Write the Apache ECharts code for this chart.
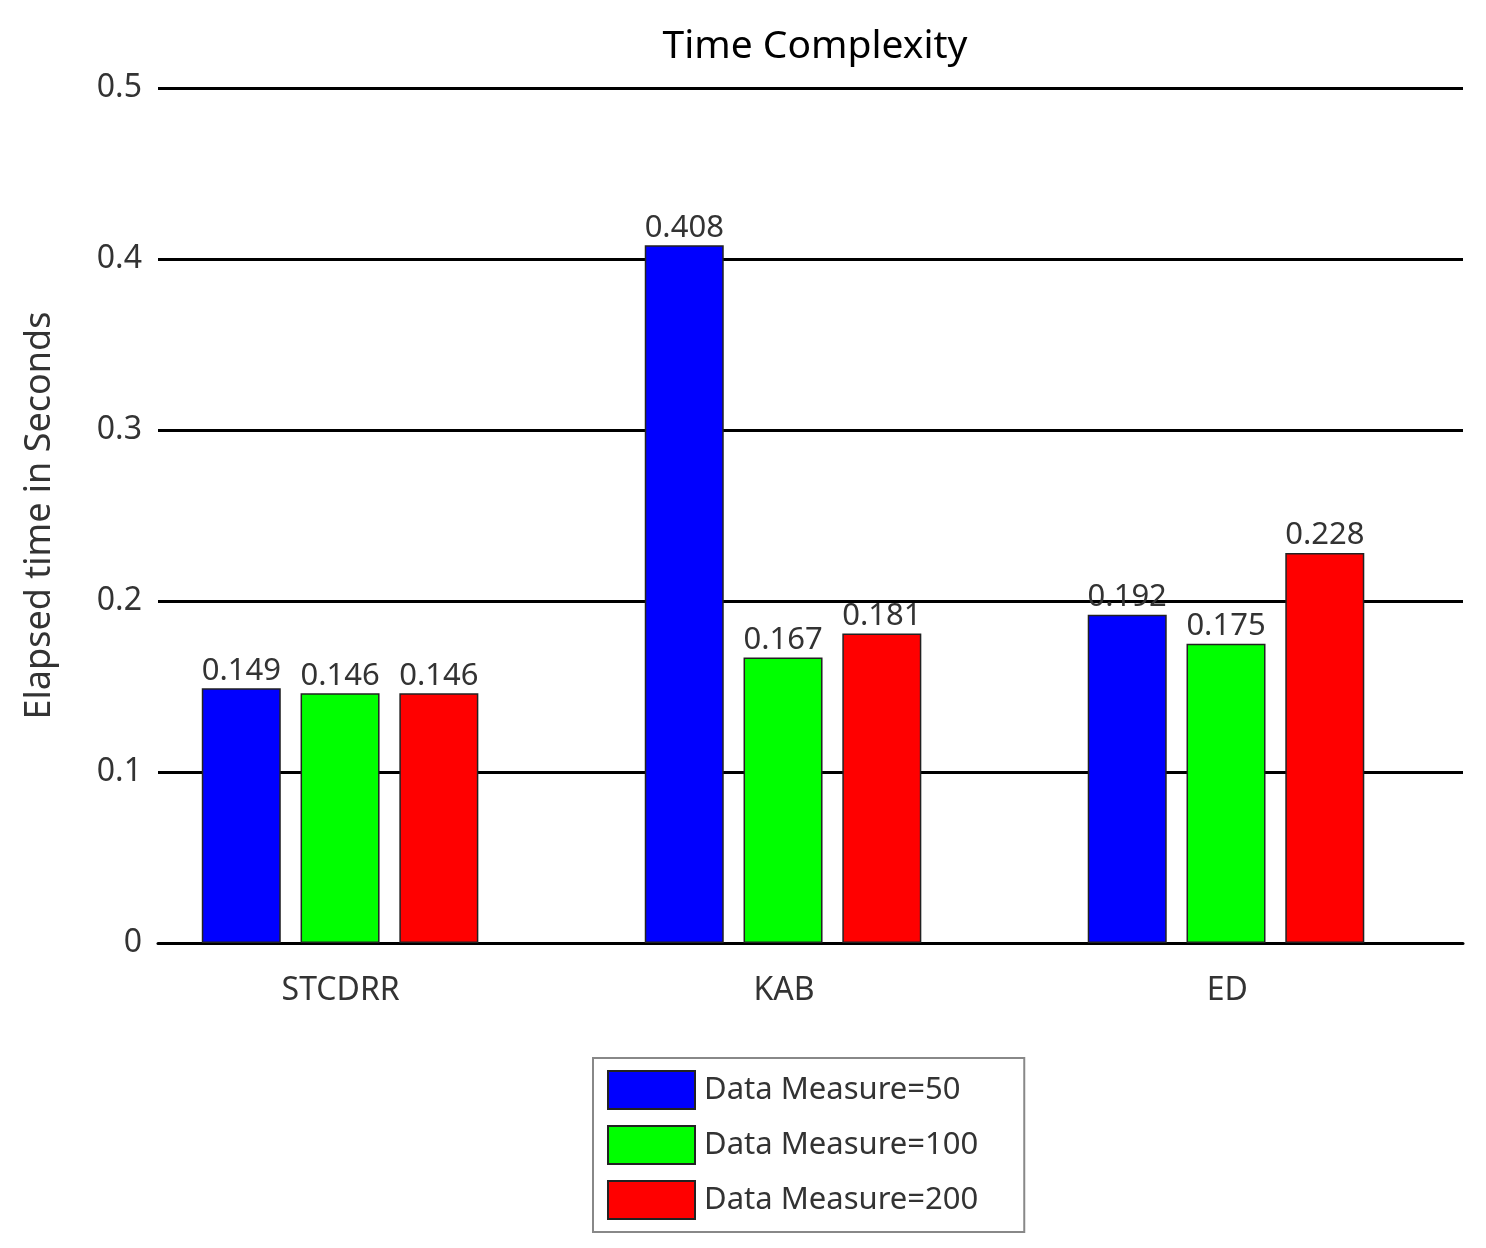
<!DOCTYPE html>
<html><head><meta charset="utf-8">
<script src="https://cdn.jsdelivr.net/npm/echarts@6/dist/echarts.min.js"></script>
<style>html,body{margin:0;background:#fff}#c{width:1486px;height:1248px}</style>
</head><body><div id="c"></div>
<script>
const categories = ['STCDRR', 'KAB', 'ED'];
const seriesNames = ['Data Measure=50', 'Data Measure=100', 'Data Measure=200'];
const m50 = [0.149, 0.408, 0.192];
const m100 = [0.146, 0.167, 0.175];
const m200 = [0.146, 0.181, 0.228];
const colors = ['#0000ff', '#00ff00', '#ff0000'];

const chart = echarts.init(document.getElementById('c'));
const offsets = [-0.223, 0, 0.223];
const font = 'Noto Sans';
const series = [m50, m100, m200].map((vals, k) => ({
    name: seriesNames[k],
    type: 'bar',
    barWidth: 79,
    barGap: '-100%',
    itemStyle: { color: colors[k], borderColor: '#222', borderWidth: 1.5 },
    label: { show: true, position: 'top', distance: 2, color: '#333', fontSize: 31, fontFamily: font, formatter: p => p.value[1].toFixed(3) },
    data: vals.map((v, i) => [i + offsets[k], v])
}));

chart.setOption({
    animation: false,
    textStyle: { fontFamily: font },
    title: { text: 'Time Complexity', left: 810, top: 22, textAlign: 'center', textStyle: { fontSize: 39, fontWeight: 'normal', color: '#000', fontFamily: font } },
    legend: {
        data: seriesNames, orient: 'vertical', left: 593, top: 1058,
        icon: 'rect',
        padding: [12, 46, 12, 14], itemGap: 15, itemWidth: 87, itemHeight: 38,
        borderColor: '#888', borderWidth: 2, backgroundColor: '#fff',
        textStyle: { fontSize: 31, color: '#333', fontFamily: font, padding: [0, 0, 0, 4] }
    },
    grid: [
        { left: 158, right: 23, top: 88, bottom: 305 },
        { left: 119, right: 37, top: 88, bottom: 305 }
    ],
    xAxis: [
        { type: 'value', gridIndex: 0, min: -0.411, max: 2.535, axisLabel: { show: false }, axisTick: { show: false }, splitLine: { show: false },
          axisLine: { show: true, onZero: false, lineStyle: { color: '#000', width: 3 } } },
        { type: 'category', gridIndex: 1, data: categories, axisLine: { show: false }, axisTick: { show: false },
          axisLabel: { fontSize: 32, color: '#333', margin: 32, fontFamily: font } }
    ],
    yAxis: [
        { type: 'value', gridIndex: 0, min: 0, max: 0.5, interval: 0.1,
          name: 'Elapsed time in Seconds', nameLocation: 'middle', nameGap: 100,
          nameTextStyle: { fontSize: 36, color: '#333', fontFamily: font },
          axisLine: { show: false }, axisTick: { show: false },
          axisLabel: { fontSize: 32, color: '#333', margin: 16, formatter: v => String(+v.toFixed(1)) },
          splitLine: { lineStyle: { color: '#000', width: 3 } } },
        { type: 'value', gridIndex: 1, show: false, min: 0, max: 0.5 }
    ],
    series: series
});
</script></body></html>
